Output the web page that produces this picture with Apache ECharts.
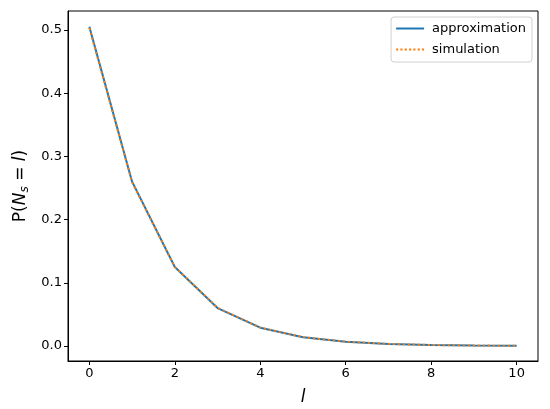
<!DOCTYPE html>
<html><head><meta charset="utf-8">
<script src="https://cdn.jsdelivr.net/npm/echarts@6/dist/echarts.min.js"></script>
<style>html,body{margin:0;padding:0;background:#fff}#c{width:550px;height:409px}</style>
</head><body><div id="c"></div>
<script>
var lValues = [0,1,2,3,4,5,6,7,8,9,10];
var approximation = [0.505,0.26,0.125,0.06,0.029,0.014,0.0068,0.0033,0.0016,0.0008,0.0004];
var simulation = [0.503,0.259,0.125,0.0605,0.0292,0.0141,0.0069,0.0034,0.0016,0.0008,0.0004];
var xTicks = [0,2,4,6,8,10];
var yTicks = [0,0.1,0.2,0.3,0.4,0.5];

var font = 'DejaVu Sans';
var chart = echarts.init(document.getElementById('c'), null, {renderer:'canvas'});
function pairs(ys){return lValues.map(function(x,i){return [x, ys[i]];});}
var dotted = 'path://';
for (var k=0;k<7;k++){ dotted += 'M'+(k*4.4)+',0h2.2v2h-2.2z'; }
chart.setOption({
  animation:false,
  backgroundColor:'#fff',
  grid:{left:68, top:11, right:12, bottom:48, show:true, borderColor:'#000', borderWidth:1,
        containLabel:false, outerBoundsMode:'none'},
  legend:{
    orient:'vertical', right:18, top:17,
    backgroundColor:'#fff', borderColor:'#d0d0d0', borderWidth:1, borderRadius:3,
    padding:[5,6,6,5], itemWidth:28, itemHeight:2, itemGap:8,
    textStyle:{fontFamily:font, fontSize:13, color:'#000', padding:[0,0,0,3]},
    data:[
      {name:'approximation', icon:'path://M0,0h28v2h-28z', itemStyle:{color:'#1f77b4'}},
      {name:'simulation', icon:dotted, itemStyle:{color:'#ff7f0e'}}
    ]
  },
  xAxis:{
    type:'value', min:-0.5, max:10.5,
    name:'l', nameLocation:'middle', nameGap:28,
    nameTextStyle:{fontFamily:font, fontSize:17, fontStyle:'italic', color:'#000'},
    axisLine:{show:true, onZero:false, lineStyle:{color:'#000', width:1}},
    axisTick:{show:true, length:4, customValues:xTicks, lineStyle:{color:'#000'}},
    axisLabel:{customValues:xTicks, fontFamily:font, fontSize:13, color:'#000', margin:6},
    splitLine:{show:false}
  },
  yAxis:{
    type:'value', min:-0.0237, max:0.53,
    name:'{n|P(}{i|N}{s|s}{n| = }{i|l}{n|)}', nameLocation:'middle', nameGap:35, nameRotate:90,
    nameTextStyle:{rich:{
      n:{fontFamily:font, fontSize:17, color:'#000'},
      i:{fontFamily:font, fontSize:17, fontStyle:'italic', color:'#000'},
      s:{fontFamily:font, fontSize:12, fontStyle:'italic', color:'#000', padding:[8,0,0,0]}
    }},
    axisLine:{show:true, onZero:false, lineStyle:{color:'#000', width:1}},
    axisTick:{show:true, length:4, customValues:yTicks, lineStyle:{color:'#000'}},
    axisLabel:{customValues:yTicks, fontFamily:font, fontSize:13, color:'#000', margin:6,
      formatter:function(v){return v.toFixed(1);}},
    splitLine:{show:false}
  },
  series:[
    {name:'approximation', type:'line', data:pairs(approximation), symbol:'none',
     lineStyle:{color:'#1f77b4', width:2}, itemStyle:{color:'#1f77b4'}},
    {name:'simulation', type:'line', data:pairs(simulation), symbol:'none',
     lineStyle:{color:'#ff7f0e', width:2, type:[2,3]}, itemStyle:{color:'#ff7f0e'}}
  ]
});
</script></body></html>
